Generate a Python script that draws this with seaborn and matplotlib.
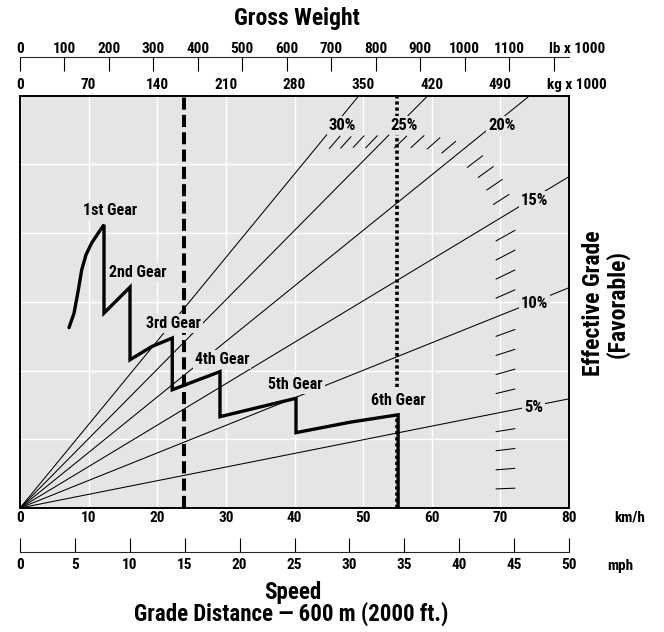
import matplotlib
matplotlib.use("Agg")
import matplotlib.pyplot as plt
from matplotlib import font_manager as fm
import seaborn as sns

# Kurve der Gänge (x in km/h, y in Diagrammhöhe: Steigungslinie y = Steigung * x)
gear_kmh = [7.14, 7.87, 8.50, 8.99, 9.62, 10.45, 11.41, 12.24, 12.24, 16.03, 16.03,
            19.19, 22.19, 22.19, 29.14, 29.14, 40.22, 40.22, 48.1, 55.1, 55.1]
gear_y = [6.56, 7.08, 7.93, 8.66, 9.21, 9.64, 10.00, 10.30, 7.09, 8.03, 5.39,
          5.87, 6.18, 4.30, 4.96, 3.32, 3.99, 2.74, 3.12, 3.39, 0.0]
gear_names = ["1st Gear", "2nd Gear", "3rd Gear", "4th Gear", "5th Gear", "6th Gear"]
gear_label_kmh = [13.1, 17.2, 22.32, 29.46, 40.17, 55.13]
gear_label_y = [10.81, 8.55, 6.70, 5.39, 4.48, 3.90]

# Steigungslinien
grade_pct = [5, 10, 15, 20, 25, 30]
grade_end_kmh = [80, 80, 80, 74.3, 59.45, 49.4]
grade_end_y = [3.97, 8.01, 12.05, 15, 15, 15]
grade_label_kmh = [74.86, 74.97, 74.97, 70.19, 56.0, 46.99]
grade_label_y = [3.64, 7.43, 11.18, 13.91, 13.91, 13.91]

# kurze Striche der Grenzkurve
mark_pct = [29, 28, 27, 26, 24, 23, 22, 21, 19, 18, 17, 16,
            14, 13, 12, 11, 9, 8, 7, 6, 4, 3, 2, 1]
mark_kmh_start = [45.07, 46.73, 48.57, 50.37, 54.54, 56.98, 59.35, 61.45, 65.18, 66.78, 68.01, 68.97,
                  69.36, 69.36, 69.36, 69.36, 69.36, 69.36, 69.36, 69.36, 69.36, 69.36, 69.36, 69.36]
mark_kmh_end = [46.63, 48.23, 50.13, 52.07, 56.35, 58.87, 61.2, 63.49, 67.42, 68.97, 70.28, 71.26,
                72.13, 72.13, 72.13, 72.13, 72.13, 72.13, 72.13, 72.13, 72.13, 72.13, 72.13, 72.13]

# senkrechte Linien
dashed_kmh = 23.9
dotted_kmh = 54.9
dotted_spans = [(0.0, 3.39), (4.40, 15.0)]

kmh_ticks = [0, 10, 20, 30, 40, 50, 60, 70, 80]
mph_ticks = [0, 5, 10, 15, 20, 25, 30, 35, 40, 45, 50]
lb_ticks = [0, 100, 200, 300, 400, 500, 600, 700, 800, 900, 1000, 1100, 1200]
lb_labels = ["0", "100", "200", "300", "400", "500", "600", "700", "800", "900", "1000", "1100", ""]
kg_ticks = [0, 70, 140, 210, 280, 350, 420, 490]


def pick_font():
    names = {f.name for f in fm.fontManager.ttflist}
    for p in ['Liberation Sans Narrow', 'Roboto Condensed', 'Open Sans Condensed',
              'Noto Sans Condensed', 'DejaVu Sans Condensed']:
        if p in names:
            return p
    for f in fm.fontManager.ttflist:
        if 'condensed' in str(f.stretch) and f.name in ('Roboto', 'Noto Sans', 'Open Sans',
                                                          'DejaVu Sans', 'Inter', 'Lato'):
            return f.name
    for f in fm.fontManager.ttflist:
        if 'condensed' in str(f.stretch):
            return f.name
    return 'DejaVu Sans'


sns.set_style("white")
FONT = pick_font()
plt.rcParams['font.family'] = [FONT, 'DejaVu Sans']
plt.rcParams['font.stretch'] = 'condensed'
plt.rcParams['font.weight'] = 'bold'
for k in ['text.color', 'axes.labelcolor', 'xtick.color', 'ytick.color']:
    plt.rcParams[k] = 'black'

BG = '#e5e5e5'
W_PX, H_PX = 664, 632
TICK_FS = 11


def fx(px):
    return px / W_PX


def fy(py):
    return 1 - py / H_PX


fig = plt.figure(figsize=(6.64, 6.32), dpi=100)
ax = fig.add_axes([fx(20), fy(508), (569 - 20) / W_PX, (508 - 95.5) / H_PX])
ax.set_facecolor(BG)
ax.set_xlim(0, 80)
ax.set_ylim(0, 15)
ax.set_xticks(kmh_ticks, labels=[str(t) for t in kmh_ticks], fontsize=TICK_FS, fontweight='bold')
ax.set_yticks([2.5, 5, 7.5, 10, 12.5])
ax.grid(True, color='white', lw=1.0)
ax.set_axisbelow(True)
ax.tick_params(axis='y', length=0, labelleft=False)
ax.tick_params(axis='x', length=0, pad=2.5)
for s in ax.spines.values():
    s.set_visible(True)
    s.set_color('black')
    s.set_linewidth(1.4)

# Steigungslinien und Grenzstriche
for ex, ey in zip(grade_end_kmh, grade_end_y):
    ax.plot([0, ex], [0, ey], color='black', lw=0.75, zorder=2)
for g, x0, x1 in zip(mark_pct, mark_kmh_start, mark_kmh_end):
    ax.plot([x0, x1], [g / 100 * x0, g / 100 * x1], color='black', lw=0.75, zorder=2)

ax.axvline(dashed_kmh, color='black', lw=2.9, linestyle=(0, (3, 1.3)),
           dash_capstyle='butt', zorder=2.2)
for y0, y1 in dotted_spans:
    ax.plot([dotted_kmh, dotted_kmh], [y0, y1], color='black', lw=2.6,
            linestyle=(0, (0.9, 0.8)), dash_capstyle='butt', zorder=2.2)

sns.lineplot(x=gear_kmh, y=gear_y, sort=False, estimator=None, color='black',
             linewidth=2.4, ax=ax, zorder=4)
ax.lines[-1].set_solid_joinstyle('miter')

box = dict(boxstyle='square,pad=0.12', fc=BG, ec='none')
for name, x, y in zip(gear_names, gear_label_kmh, gear_label_y):
    ax.text(x, y, name, ha='center', va='center', fontsize=11.5, fontweight='bold',
            bbox=box, zorder=3)
for g, x, y in zip(grade_pct, grade_label_kmh, grade_label_y):
    ax.text(x, y, f"{g}%", ha='center', va='center', fontsize=12, fontweight='bold',
            bbox=box, zorder=3)

# obere Achsen: lb und kg
lb_ax = ax.secondary_xaxis(1 + 38.5 / 412.5, functions=(lambda v: v * 7 * 2.20462,
                                                          lambda v: v / (7 * 2.20462)))
lb_ax.set_xticks(lb_ticks, labels=lb_labels, fontsize=TICK_FS, fontweight='bold')
lb_ax.tick_params(direction='in', length=10, width=0.8, pad=1)
for s in lb_ax.spines.values():
    s.set_linewidth(0.8)

kg_ax = ax.secondary_xaxis('top', functions=(lambda v: v * 7, lambda v: v / 7))
kg_ax.set_xticks(kg_ticks, labels=[str(t) for t in kg_ticks], fontsize=TICK_FS,
                 fontweight='bold')
kg_ax.tick_params(length=0, pad=2.2)
for s in kg_ax.spines.values():
    s.set_visible(False)

# untere mph-Achse (wie gezeichnet: 50 mph am rechten Rand)
mph_ax = ax.secondary_xaxis(-44 / 412.5, functions=(lambda v: v / 1.6, lambda v: v * 1.6))
mph_ax.set_xticks(mph_ticks, labels=[str(t) for t in mph_ticks], fontsize=TICK_FS,
                  fontweight='bold')
mph_ax.tick_params(direction='in', length=10, width=0.8, pad=4.5)
for s in mph_ax.spines.values():
    s.set_linewidth(0.8)

fig.text(fx(577), fy(52.7), "lb x 1000", ha='center', va='baseline', fontsize=TICK_FS)
fig.text(fx(577), fy(89.3), "kg x 1000", ha='center', va='baseline', fontsize=TICK_FS)
fig.text(fx(630), fy(521.5), "km/h", ha='center', va='baseline', fontsize=TICK_FS)
fig.text(fx(620), fy(570), "mph", ha='center', va='baseline', fontsize=TICK_FS)

fig.text(fx(297), fy(25), "Gross Weight", ha='center', va='baseline', fontsize=17)
fig.text(fx(292.5), fy(599), "Speed", ha='center', va='baseline', fontsize=16.5)
fig.text(fx(291.5), fy(621), "Grade Distance \u2014 600 m (2000 ft.)", ha='center',
         va='baseline', fontsize=16.5)
fig.text(fx(593.4), fy(303.5), "Effective Grade", rotation=90, ha='center', va='center',
         fontsize=17)
fig.text(fx(617.4), fy(303.5), "(Favorable)", rotation=90, ha='center', va='center',
         fontsize=17)

fig.savefig("out.png", dpi=100)
